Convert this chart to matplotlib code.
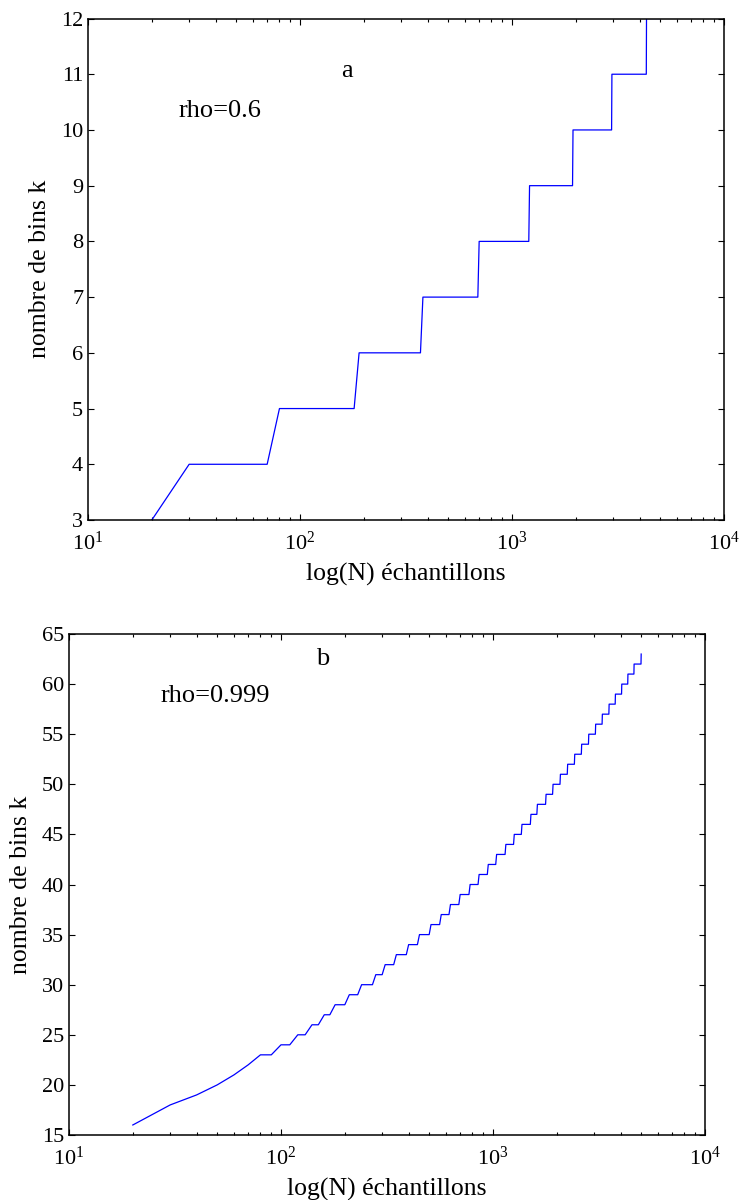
import matplotlib
matplotlib.use("Agg")
import matplotlib.pyplot as plt
from matplotlib.ticker import LogLocator, MultipleLocator, NullFormatter

plt.rcParams['font.family'] = ['Liberation Serif', 'DejaVu Serif']
plt.rcParams['mathtext.fontset'] = 'custom'
plt.rcParams['mathtext.rm'] = 'Liberation Serif'
plt.rcParams['mathtext.it'] = 'Liberation Serif:italic'

# Panel a (rho = 0.6)
n_a = [20, 30, 70, 80, 180, 190, 370, 380, 690, 700, 1200, 1210, 1930, 1940,
       2950, 2960, 4300, 4310, 5000]
k_a = [3, 4, 4, 5, 5, 6, 6, 7, 7, 8, 8, 9, 9, 10, 10, 11, 11, 12, 12]

# Panel b (rho = 0.999)
n_b = [20, 30, 40, 50, 60, 70, 80, 90, 100, 110, 120, 130, 140, 150, 160, 170, 180,
       200, 210, 230, 240, 270, 280, 300, 310, 340, 350, 390, 400, 440, 450, 500,
       510, 560, 570, 620, 630, 690, 700, 770, 780, 850, 860, 940, 950, 1030, 1040,
       1140, 1150, 1250, 1260, 1360, 1370, 1500, 1510, 1610, 1620, 1770, 1780,
       1910, 1920, 2070, 2080, 2240, 2250, 2420, 2430, 2610, 2620, 2820, 2830,
       3040, 3050, 3270, 3280, 3520, 3530, 3770, 3780, 4040, 4050, 4320, 4330,
       4620, 4630, 4990, 5000]
k_b = [16, 18, 19, 20, 21, 22, 23, 23, 24, 24, 25, 25, 26, 26, 27, 27, 28,
       28, 29, 29, 30, 30, 31, 31, 32, 32, 33, 33, 34, 34, 35, 35,
       36, 36, 37, 37, 38, 38, 39, 39, 40, 40, 41, 41, 42, 42, 43,
       43, 44, 44, 45, 45, 46, 46, 47, 47, 48, 48, 49,
       49, 50, 50, 51, 51, 52, 52, 53, 53, 54, 54, 55,
       55, 56, 56, 57, 57, 58, 58, 59, 59, 60, 60, 61,
       61, 62, 62, 63]

xlabel = "log(N) échantillons"
ylabel = "nombre de bins k"

fig = plt.figure(figsize=(7.44, 12), dpi=100)
ax1 = fig.add_axes([88/744, 1 - 520/1200, 636/744, 501.5/1200])
ax2 = fig.add_axes([69/744, 1 - 1135/1200, 636/744, 501/1200])

TFS = 16
LFS = 18.5
AFS = 19

def style(ax, ylim, ystep):
    ax.set_xscale('log')
    ax.set_xlim(10, 1e4)
    ax.set_ylim(*ylim)
    ax.yaxis.set_major_locator(MultipleLocator(ystep))
    ax.xaxis.set_major_locator(LogLocator(base=10, numticks=10))
    ax.xaxis.set_minor_locator(LogLocator(base=10, subs=range(2, 10), numticks=20))
    ax.xaxis.set_minor_formatter(NullFormatter())
    ax.tick_params(which='both', direction='in', top=True, right=True,
                   labelsize=TFS, width=0.8, colors='black')
    ax.tick_params(which='major', length=4.5)
    ax.tick_params(axis='y', which='major', pad=3.5)
    ax.tick_params(axis='x', which='major', pad=8)
    ax.tick_params(which='minor', length=2.3)
    for s in ax.spines.values():
        s.set_linewidth(1.1)
    ax.set_xlabel(xlabel, fontsize=LFS, labelpad=6.5)
    ax.set_ylabel(ylabel, fontsize=LFS, labelpad=7)

ax1.plot(n_a, k_a, color='#0000ff', linewidth=0.9)
style(ax1, (3, 12), 1)
ax1.text(167, 11.05, 'a', fontsize=AFS, ha='center', va='center')
ax1.text(26.6, 10.34, 'rho=0.6', fontsize=AFS, ha='left', va='center')

ax2.plot(n_b, k_b, color='#0000ff', linewidth=0.9)
style(ax2, (15, 65), 5)
ax2.text(158, 62.5, 'b', fontsize=AFS, ha='center', va='center')
ax2.text(26.9, 58.8, 'rho=0.999', fontsize=AFS, ha='left', va='center')

fig.savefig('out.png', dpi=100)
